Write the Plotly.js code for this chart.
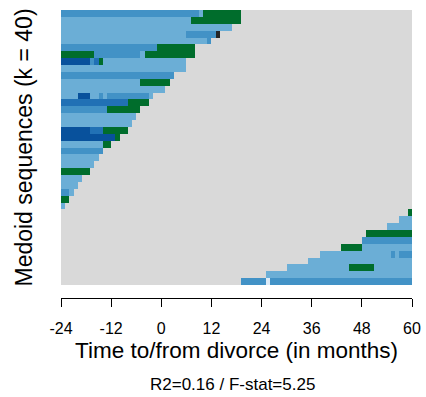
<!DOCTYPE html>
<html>
<head>
<meta charset="utf-8">
<script src="https://cdn.plot.ly/plotly-3.0.1.min.js"></script>
<style>html,body{margin:0;padding:0;background:#fff;}#chart{width:426px;height:397px;}</style>
</head>
<body>
<div id="chart"></div>
<script>
// ---- Data ----
// Time axis: months relative to divorce; each cell is one month.
const timeStart = -24;
const timeEnd = 60;
const xTickVals = [-24, -12, 0, 12, 24, 36, 48, 60];
const xTickText = ["-24", "-12", "0", "12", "24", "36", "48", "60"];

// State alphabet (L light blue, M mid blue, B blue, D dark blue, G green, K black, P pale, X missing)
const stateCodes = ["L", "M", "B", "D", "G", "K", "P", "X"];

// 40 medoid sequences, top to bottom: first observed month, then run-length encoded states
const rowStart = [
  -24, -24, -24, -24, -24, -24, -24, -24, -24, -24,
  -24, -24, -24, -24, -24, -24, -24, -24, -24, -24,
  -24, -24, -24, -24, -24, -24, -24, -24, -24,
  59, 57, 54, 49, 48, 43, 38, 35, 30, 25, 19
];
const rowStates = [
  ["M","L","G"], ["L","G"], ["L"], ["L","M","K"], ["L","M"],
  ["M","G"], ["G","M","L","G"], ["D","M","B","G","L"], ["L"], ["M"],
  ["L","G"], ["L"], ["L","D","L","M","L","M","L"], ["B","G"], ["M","G"],
  ["L"], ["L"], ["D","B","G"], ["D","G"], ["L","G"],
  ["M"], ["L"], ["L"], ["G"], ["L"],
  ["L"], ["M","L"], ["G"], ["L"],
  ["G"], ["L"], ["L"], ["G"], ["M"],
  ["G","L"], ["L","M","L","M"], ["L"], ["L","G","L"], ["L"], ["M","P","M"]
];
const rowDurations = [
  [33,1,9], [31,12], [41], [30,7,1], [35,1],
  [23,9], [8,11,1,12], [7,1,1,1,20], [30], [27],
  [19,7], [25], [4,3,2,1,1,10,1], [16,5], [11,8],
  [18], [17], [7,3,6], [13,1], [10,2],
  [10], [9], [8], [7], [5],
  [4], [2,1], [2], [1],
  [1], [3], [6], [11], [12],
  [5,12], [17,1,1,3], [25], [15,6,9], [35], [6,1,34]
];

// ---- Styles ----
const stateColors = {
  L: "#6baed6", M: "#4292c6", B: "#2171b5", D: "#08519c",
  G: "#006d2c", K: "#252525", P: "#deebf7", X: "#d9d9d9"
};

// ---- Build one bar trace per state ----
const byState = {};
stateCodes.forEach(s => byState[s] = {y: [], x: [], base: []});
rowStates.forEach((states, r) => {
  let t = rowStart[r];
  if (t > timeStart) {
    byState.X.y.push(r); byState.X.base.push(timeStart); byState.X.x.push(t - timeStart);
  }
  states.forEach((s, k) => {
    const d = rowDurations[r][k];
    byState[s].y.push(r); byState[s].base.push(t); byState[s].x.push(d);
    t += d;
  });
  if (t < timeEnd) {
    byState.X.y.push(r); byState.X.base.push(t); byState.X.x.push(timeEnd - t);
  }
});

const traces = stateCodes.map(s => ({
  type: "bar",
  orientation: "h",
  y: byState[s].y,
  x: byState[s].x,
  base: byState[s].base,
  width: 1.0,
  marker: {color: stateColors[s], line: {width: 0}},
  hoverinfo: "skip",
  name: s,
  showlegend: false
}));

const font = "Liberation Sans, Arial, sans-serif";
const layout = {
  width: 426,
  height: 397,
  margin: {l: 61, r: 14, t: 10, b: 99},
  paper_bgcolor: "#ffffff",
  plot_bgcolor: "#ffffff",
  barmode: "overlay",
  bargap: 0,
  showlegend: false,
  font: {family: font, color: "#000"},
  xaxis: {
    range: [timeStart, timeEnd],
    anchor: "free",
    position: 0,
    showline: true, linecolor: "#000", linewidth: 1,
    ticks: "outside", ticklen: 8, tickwidth: 1, tickcolor: "#000",
    tickvals: xTickVals, ticktext: xTickText,
    tickfont: {family: font, size: 16, color: "#000"},
    ticklabelstandoff: 8,
    showgrid: false, zeroline: false,
    title: {text: "Time to/from divorce (in months)", font: {family: font, size: 22.5, color: "#000"}, standoff: 6}
  },
  yaxis: {
    domain: [13/288, 1],
    range: [39.5, -0.5],
    showticklabels: false, ticks: "",
    showgrid: false, zeroline: false, showline: false,
    title: {text: "Medoid sequences (k = 40)", font: {family: font, size: 23, color: "#000"}, standoff: 20}
  },
  annotations: [{
    text: "R2=0.16 / F-stat=5.25",
    xref: "paper", yref: "paper",
    x: 0.49, y: -0.30,
    xanchor: "center", yanchor: "middle",
    showarrow: false,
    font: {family: font, size: 17, color: "#000"}
  }]
};

Plotly.newPlot("chart", traces, layout, {displayModeBar: false, staticPlot: true});
</script>
</body>
</html>
